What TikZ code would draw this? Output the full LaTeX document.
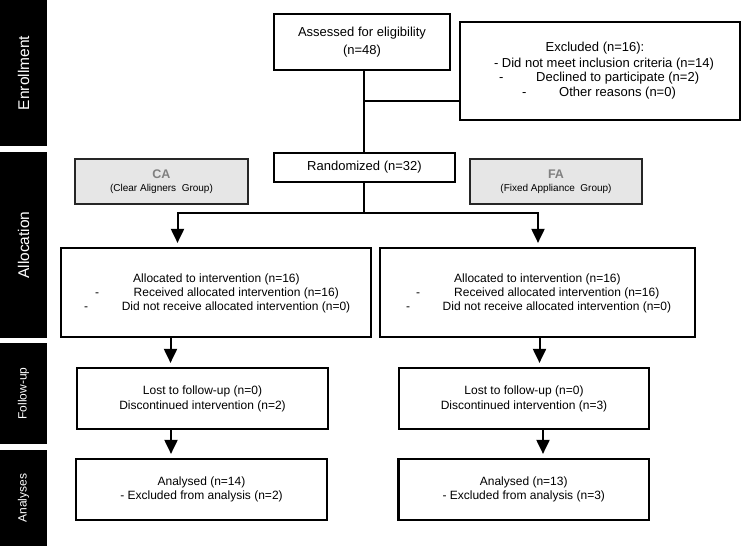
\documentclass[tikz,border=0pt]{standalone}
\usepackage{fontspec}
\setmainfont{Liberation Sans}
\usetikzlibrary{arrows.meta}
\definecolor{grpfill}{HTML}{E6E6E6}
\definecolor{grptext}{HTML}{808080}
\begin{document}
\begin{tikzpicture}[x=1pt,y=-1pt,
  bar/.style={fill=black, draw=none, rotate=90, text=white, inner sep=0pt},
  box/.style={draw=black, line width=2.2pt, fill=white, inner sep=0pt, align=center},
  grp/.style={draw=black!85, line width=2.2pt, fill=grpfill, inner sep=0pt, align=center},
  txt/.style={inner sep=0pt, font=\fontsize{12}{14}\selectfont},
  ttxt/.style={inner sep=0pt, font=\fontsize{13}{15}\selectfont},
  link/.style={line width=2pt},
  arr/.style={line width=2pt, -{Triangle[width=13pt,length=14pt]}, shorten >=4pt},
]
\useasboundingbox (0,0) rectangle (742,546);

% side bars
\node[bar, minimum width=146pt, minimum height=47pt, font=\fontsize{15.5}{18}\selectfont] (benr) at (23.5,73) {Enrollment};
\node[bar, minimum width=186pt, minimum height=47pt, font=\fontsize{15.5}{18}\selectfont] (ball) at (23.5,245) {Allocation};
\node[bar, minimum width=101pt, minimum height=47pt, font=\fontsize{12}{14}\selectfont] (bfol) at (23.5,393.5) {Follow-up};
\node[bar, minimum width=96pt, minimum height=47pt, font=\fontsize{12}{14}\selectfont] (bana) at (23.5,498) {Analyses};

% enrollment
\node[box, minimum width=176pt, minimum height=56pt, font=\fontsize{13}{17.5}\selectfont] (assess) at (362,42) {Assessed for eligibility\\(n=48)};
\node[box, minimum width=280pt, minimum height=98pt] (excl) at (600,71) {};
\node[ttxt] (ex1) at (595,48) {Excluded (n=16):};
\node[ttxt] (ex2) at (604,64) {- Did not meet inclusion criteria (n=14)};
\node[ttxt, anchor=west] (ex3) at (499,78.5) {\makebox[37pt][l]{-}Declined to participate (n=2)};
\node[ttxt, anchor=west] (ex4) at (522,93) {\makebox[37pt][l]{-}Other reasons (n=0)};

% allocation
\node[box, minimum width=181pt, minimum height=29pt, font=\fontsize{13}{15}\selectfont] (rand) at (364.5,167.5) {Randomized (n=32)};
\node[grp, minimum width=173pt, minimum height=45pt] (ca) at (161.5,181.5)
  {{\fontsize{12.5}{14}\selectfont\bfseries\color{grptext}CA}\\[1pt]{\fontsize{10}{11}\selectfont (Clear Aligners\ \ Group)}};
\node[grp, minimum width=172pt, minimum height=45pt] (fa) at (556,181.5)
  {{\fontsize{12.5}{14}\selectfont\bfseries\color{grptext}FA}\\[1pt]{\fontsize{10}{11}\selectfont (Fixed Appliance\ \ Group)}};

\node[box, minimum width=310pt, minimum height=89pt] (allocL) at (216,292.5) {};
\node[box, minimum width=315pt, minimum height=89pt] (allocR) at (537.5,292.5) {};
\node[txt, anchor=west] (aL1) at (133,279) {Allocated to intervention (n=16)};
\node[txt, anchor=west] (aL2) at (95,293) {\makebox[38.5pt][l]{-}Received\ allocated intervention (n=16)};
\node[txt, anchor=west] (aL3) at (84,307) {\makebox[37.6pt][l]{-}Did not receive\ allocated intervention (n=0)};
\node[txt, anchor=west] (aR1) at (454,279) {Allocated to intervention (n=16)};
\node[txt, anchor=west] (aR2) at (416,293) {\makebox[38pt][l]{-}Received\ allocated intervention (n=16)};
\node[txt, anchor=west] (aR3) at (406,307) {\makebox[36.5pt][l]{-}Did not receive\ allocated intervention (n=0)};

% follow-up
\node[box, minimum width=251pt, minimum height=61pt, font=\fontsize{12}{15}\selectfont] (fuL) at (202.5,398.5) {Lost to follow-up (n=0)\\Discontinued intervention (n=2)};
\node[box, minimum width=250pt, minimum height=61pt, font=\fontsize{12}{15}\selectfont] (fuR) at (524,398.5) {Lost to follow-up (n=0)\\Discontinued intervention (n=3)};

% analyses
\node[box, minimum width=251pt, minimum height=61pt, font=\fontsize{12}{14.5}\selectfont] (anL) at (201.5,489.5) {Analysed (n=14)\\- Excluded from analysis (n=2)};
\node[box, minimum width=250.5pt, minimum height=61pt, font=\fontsize{12}{14.5}\selectfont] (anR) at (523.75,489.5) {Analysed (n=13)\\- Excluded from analysis (n=3)};

% connectors
\coordinate (trunk) at (364,0);
\coordinate (br) at (364,100.5);
\coordinate (split) at (364,213);
\coordinate (sl) at (177.5,213);
\coordinate (sr) at (538,213);
\coordinate (c1) at (170.5,0);
\coordinate (c2) at (539.5,0);
\coordinate (c3) at (171,0);
\coordinate (c4) at (543,0);

\draw[link] (assess.south -| trunk) -- (rand.north -| trunk);
\draw[link] (br) -- (br -| excl.west);
\draw[link] (rand.south -| trunk) -- (split);
\draw[link, line cap=rect] (sl) -- (sr);
\draw[arr] (sl) -- (sl |- allocL.north);
\draw[arr] (sr) -- (sr |- allocR.north);
\draw[arr] (allocL.south -| c1) -- (fuL.north -| c1);
\draw[arr] (allocR.south -| c2) -- (fuR.north -| c2);
\draw[arr] (fuL.south -| c3) -- (anL.north -| c3);
\draw[arr] (fuR.south -| c4) -- (anR.north -| c4);
\end{tikzpicture}
\end{document}
